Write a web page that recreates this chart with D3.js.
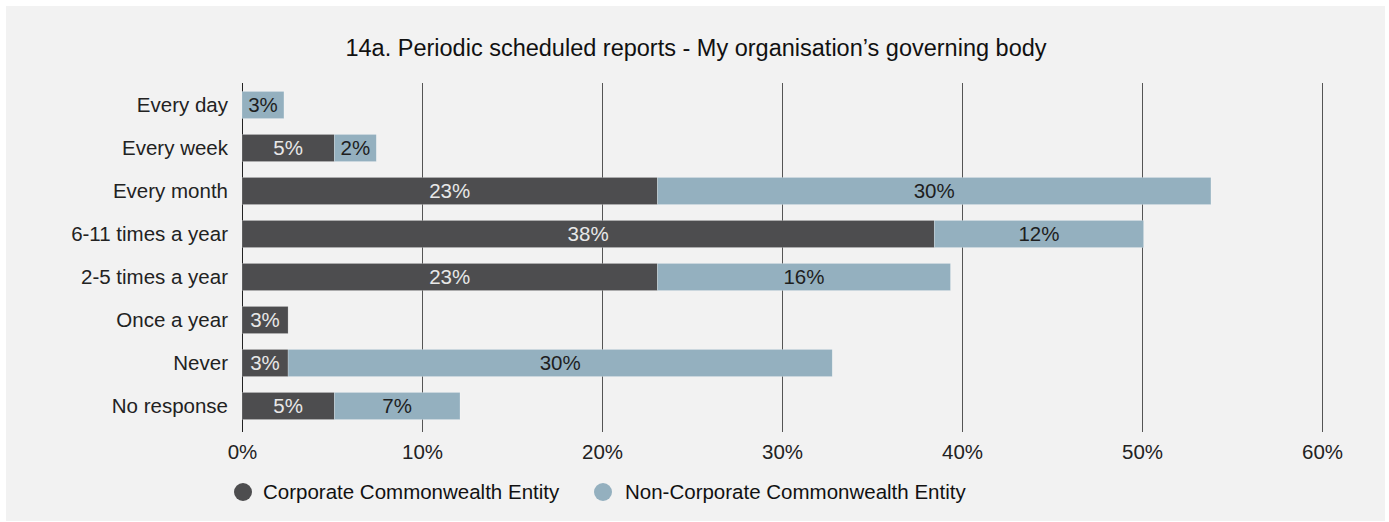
<!DOCTYPE html>
<html>
<head>
<meta charset="utf-8">
<script src="https://cdn.jsdelivr.net/npm/d3@7"></script>
<style>
  html, body { margin: 0; padding: 0; background: #ffffff; }
  svg { display: block; font-family: "Liberation Sans", Arial, Helvetica, sans-serif; }
</style>
</head>
<body>
<svg id="chart" width="1389" height="522"></svg>
<script>
// Survey responses, percentage of each entity type
const categories = ["Every day", "Every week", "Every month", "6-11 times a year",
                    "2-5 times a year", "Once a year", "Never", "No response"];
const corporate      = [0, 5.13, 23.08, 38.46, 23.08, 2.56, 2.56, 5.13];
const nonCorporate   = [2.33, 2.33, 30.75, 11.63, 16.28, 0, 30.23, 6.98];
// Published whole-percent labels
const corporateLabels    = ["", "5%", "23%", "38%", "23%", "3%", "3%", "5%"];
const nonCorporateLabels = ["3%", "2%", "30%", "12%", "16%", "", "30%", "7%"];
const seriesNames  = ["Corporate Commonwealth Entity", "Non-Corporate Commonwealth Entity"];
const tickValues   = [0, 10, 20, 30, 40, 50, 60];
const colors       = ["#4d4d4f", "#94b0bf"];
const labelColors  = ["#e8e8e8", "#1e1e1e"];

const svg = d3.select("#chart");
const FS = 20.5;

// panel background
svg.append("rect").attr("x", 6).attr("y", 6).attr("width", 1379).attr("height", 515)
  .attr("fill", "#f2f2f2");

svg.append("text").attr("x", 696).attr("y", 56).attr("text-anchor", "middle")
  .attr("font-size", 23.5).attr("fill", "#111")
  .text("14a. Periodic scheduled reports - My organisation\u2019s governing body");

const x = d3.scaleLinear().domain([0, 60]).range([242, 1322]);
const y = d3.scaleBand().domain(categories).range([83.5, 427.5])
  .paddingInner(0.37).paddingOuter(0.185);

// vertical gridlines and x tick labels
const xAxis = d3.axisBottom(x).tickValues(tickValues).tickFormat(d => d + "%")
  .tickSize(-(432 - 83)).tickPadding(12);
const gx = svg.append("g").attr("transform", "translate(0,432)").call(xAxis);
gx.select(".domain").remove();
gx.selectAll(".tick line").attr("stroke", d => d === 0 ? "#222" : "#555").attr("stroke-width", 1);
gx.selectAll(".tick text").attr("font-size", FS).attr("fill", "#222")
  .attr("font-family", "Liberation Sans, Arial, sans-serif");

// category labels
const gy = svg.append("g").attr("transform", "translate(242,0)")
  .call(d3.axisLeft(y).tickSize(0).tickPadding(14));
gy.select(".domain").remove();
gy.selectAll(".tick text").attr("font-size", FS).attr("fill", "#222")
  .attr("font-family", "Liberation Sans, Arial, sans-serif");

// stacked bars
const rows = categories.map((c, i) => ({ cat: c, corp: corporate[i], non: nonCorporate[i] }));
const stack = d3.stack().keys(["corp", "non"])(rows);
const labels = [corporateLabels, nonCorporateLabels];

stack.forEach((layer, si) => {
  const g = svg.append("g");
  const segs = layer.map((d, i) => ({ d, i })).filter(o => o.d[1] - o.d[0] > 0);
  g.selectAll("rect").data(segs).join("rect")
    .attr("x", o => x(o.d[0]))
    .attr("y", o => y(o.d.data.cat))
    .attr("width", o => x(o.d[1]) - x(o.d[0]))
    .attr("height", y.bandwidth())
    .attr("fill", colors[si])
    .attr("stroke", "rgba(255,255,255,0.35)").attr("stroke-width", 0.6);
  g.selectAll("text").data(segs).join("text")
    .attr("x", o => (x(o.d[0]) + x(o.d[1])) / 2)
    .attr("y", o => y(o.d.data.cat) + y.bandwidth() / 2)
    .attr("dy", "0.36em")
    .attr("text-anchor", "middle")
    .attr("font-size", FS)
    .attr("fill", labelColors[si])
    .text(o => labels[si][o.i]);
});

// legend
const legend = svg.append("g");
const legendItems = [{ cx: 243, tx: 263 }, { cx: 603, tx: 625 }];
seriesNames.forEach((name, i) => {
  legend.append("circle").attr("cx", legendItems[i].cx).attr("cy", 492).attr("r", 9)
    .attr("fill", colors[i]);
  legend.append("text").attr("x", legendItems[i].tx).attr("y", 492).attr("dy", "0.36em")
    .attr("font-size", FS).attr("fill", "#111").text(name);
});
</script>
</body>
</html>
